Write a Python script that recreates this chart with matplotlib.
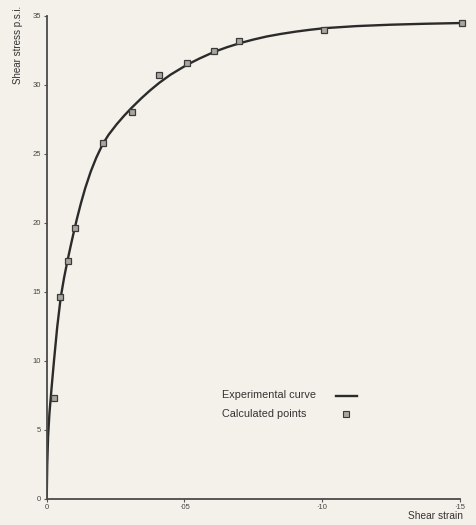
import numpy as np
from matplotlib import pyplot as plt

# experimental curve (strain, stress in p.s.i.)
curve_strain = [0, 0.0002, 0.0005, 0.001, 0.0018, 0.00265, 0.0038, 0.0051, 0.0063,
                0.0076, 0.0088, 0.0097, 0.011, 0.0124, 0.014, 0.016, 0.018, 0.0203,
                0.0225, 0.0254, 0.0281, 0.0309, 0.0345, 0.0375, 0.0409, 0.045, 0.0509,
                0.0555, 0.0608, 0.0655, 0.0703, 0.075, 0.08, 0.085, 0.0905, 0.0955,
                0.1009, 0.1125, 0.1248, 0.1375, 0.15]
curve_stress = [0, 2.5, 4.5, 6.2, 8.1, 10.0, 12.4, 14.6, 16.0,
                17.3, 18.4, 19.2, 20.3, 21.39, 22.51, 23.71, 24.71, 25.68,
                26.38, 27.13, 27.75, 28.34, 29.04, 29.58, 30.14, 30.73, 31.44,
                31.9, 32.38, 32.72, 33.02, 33.27, 33.5, 33.68, 33.85, 33.98,
                34.1, 34.25, 34.35, 34.42, 34.47]

# calculated points
calc_strain = [0.0028, 0.005, 0.0076, 0.0102, 0.0203, 0.0309, 0.0409, 0.0509,
               0.0608, 0.070, 0.1009, 0.151]
calc_stress = [7.3, 14.6, 17.2, 19.6, 25.75, 28.05, 30.7, 31.6,
               32.45, 33.2, 33.95, 34.45]

x_ticks = [0, 0.05, 0.10, 0.15]
x_labels = ['0', '·05', '·10', '·15']
y_ticks = [0, 5, 10, 15, 20, 25, 30, 35]

paper = '#f4f1ea'
ink = '#2b2b2b'
plt.rcParams['font.family'] = ['Liberation Sans', 'DejaVu Sans']

fig = plt.figure(figsize=(4.76, 5.25), dpi=100)
fig.patch.set_facecolor(paper)
ax = fig.add_axes([0.0981, 0.05, 0.8674, 0.92])
ax.set_facecolor(paper)

ax.plot(curve_strain, curve_stress, color=ink, linewidth=1.7,
        solid_capstyle='round', solid_joinstyle='round')
ax.plot(calc_strain, calc_stress, linestyle='none', marker='s', markersize=5,
        markerfacecolor='#a9a6a0', markeredgecolor='#3a3a3a', markeredgewidth=0.9,
        clip_on=False)

ax.set_xlim(0, 0.15)
ax.set_ylim(0, 35)
ax.set_xticks(x_ticks)
ax.set_xticklabels(x_labels)
ax.set_yticks(y_ticks)
for side in ['top', 'right']:
    ax.spines[side].set_visible(False)
for side in ['left', 'bottom']:
    ax.spines[side].set_color('#4a4a4a')
    ax.spines[side].set_linewidth(1.3)
ax.tick_params(axis='both', length=2.5, width=0.8, colors='#555555', labelsize=5.5,
               labelcolor='#444444', pad=1.5)

fig.text(18 / 476, 1 - 45 / 525, 'Shear stress p.s.i.', rotation=90, ha='center',
         va='center', fontsize=7, color='#333333')
fig.text(463 / 476, 1 - 516 / 525, 'Shear strain', ha='right', va='center',
         fontsize=7.3, color='#333333')

# hand-made legend
fig.text(222 / 476, 1 - 395 / 525, 'Experimental curve', ha='left', va='center',
         fontsize=7.8, color='#333333')
fig.text(222 / 476, 1 - 414 / 525, 'Calculated points', ha='left', va='center',
         fontsize=7.8, color='#333333')
fig.add_artist(plt.Line2D([336 / 476, 357 / 476], [1 - 396 / 525, 1 - 396 / 525],
                          color=ink, linewidth=1.7))
fig.add_artist(plt.Line2D([346 / 476], [1 - 414 / 525], linestyle='none', marker='s',
                          markersize=4.5, markerfacecolor='#a9a6a0',
                          markeredgecolor='#3a3a3a', markeredgewidth=0.8))

fig.savefig('out.png', dpi=100, facecolor=paper)
